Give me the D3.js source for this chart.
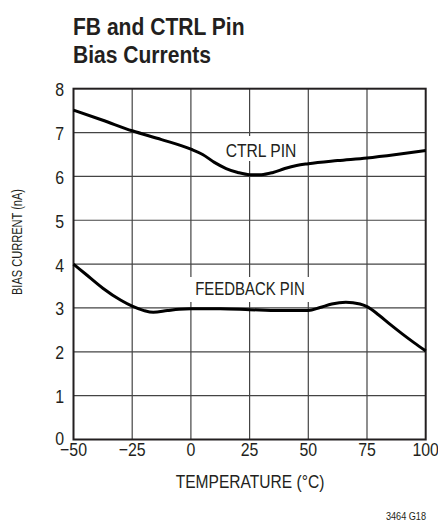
<!DOCTYPE html>
<html lang="en">
  <head>
    <meta charset="utf-8" />
    <title>FB and CTRL Pin Bias Currents</title>
    <script src="https://d3js.org/d3.v7.min.js"></script>
    <style>
      body { margin: 0; background: #fff; }
      text { font-family: "Liberation Sans", Arial, sans-serif; fill: #231f20; }
    </style>
  </head>
  <body>
    <script type="text/javascript">
      // temperature (°C) and bias current (nA)
      const ctrlTemp = [-50, -37.5, -25, -12.5, 0, 5, 10, 15, 20, 25, 30, 35, 40, 45, 50, 62.5, 75, 87.5, 100];
      const ctrlBias = [7.51, 7.28, 7.04, 6.84, 6.62, 6.5, 6.32, 6.18, 6.09, 6.04, 6.04, 6.09, 6.18, 6.25, 6.29, 6.36, 6.42, 6.5, 6.59];

      const fbTemp = [-50, -45, -37.5, -30, -25, -20, -16, -10, -5, 0, 12.5, 25, 37.5, 50, 55, 60, 66, 72, 75, 80, 85, 90, 95, 100];
      const fbBias = [4.0, 3.78, 3.45, 3.18, 3.04, 2.94, 2.9, 2.94, 2.97, 2.98, 2.98, 2.96, 2.94, 2.94, 3.01, 3.09, 3.13, 3.09, 3.03, 2.84, 2.62, 2.41, 2.21, 2.02];

      const xTicks = [-50, -25, 0, 25, 50, 75, 100];
      const yTicks = [0, 1, 2, 3, 4, 5, 6, 7, 8];

      const w = 438;
      const h = 521;
      const pLeft = 73.5, pRight = 425.7, pTop = 88.7, pBottom = 439.5;

      const svg = d3.select("body").append("svg").attr("width", w).attr("height", h);

      const x = d3.scaleLinear().domain([-50, 100]).range([pLeft, pRight]);
      const y = d3.scaleLinear().domain([0, 8]).range([pBottom, pTop]);

      // condensed-looking text: squeeze Liberation Sans horizontally
      function label(px, py, str, size, sx, anchor, extra) {
        return svg.append("text")
          .attr("transform", "translate(" + px + "," + py + ")" + (extra || "") + " scale(" + sx + ",1)")
          .attr("text-anchor", anchor || "start")
          .attr("font-size", size + "px")
          .text(str);
      }

      // title
      label(73, 34.5, "FB and CTRL Pin", 24.5, 0.86).attr("font-weight", "bold");
      label(73, 63, "Bias Currents", 24.5, 0.86).attr("font-weight", "bold");

      // grid
      const grid = svg.append("g").attr("stroke", "#444").attr("stroke-width", 1.2);
      grid.selectAll("line.v").data(xTicks.slice(1, -1)).enter().append("line")
        .attr("x1", d => x(d)).attr("x2", d => x(d))
        .attr("y1", pTop).attr("y2", pBottom);
      grid.selectAll("line.h").data(yTicks.slice(1, -1)).enter().append("line")
        .attr("x1", pLeft).attr("x2", pRight)
        .attr("y1", d => y(d)).attr("y2", d => y(d));

      // label backgrounds (break the grid behind the text)
      svg.append("rect").attr("x", 221).attr("y", 136).attr("width", 80).attr("height", 25).attr("fill", "#fff");
      svg.append("rect").attr("x", 190).attr("y", 277).attr("width", 121).attr("height", 25).attr("fill", "#fff");

      svg.append("rect")
        .attr("x", pLeft).attr("y", pTop)
        .attr("width", pRight - pLeft).attr("height", pBottom - pTop)
        .attr("fill", "none").attr("stroke", "#231f20").attr("stroke-width", 2);

      // curves
      const line = d3.line()
        .x(d => x(d[0]))
        .y(d => y(d[1]))
        .curve(d3.curveMonotoneX);

      svg.append("path")
        .datum(d3.zip(ctrlTemp, ctrlBias))
        .attr("d", line)
        .attr("fill", "none").attr("stroke", "#000").attr("stroke-width", 3);

      svg.append("path")
        .datum(d3.zip(fbTemp, fbBias))
        .attr("d", line)
        .attr("fill", "none").attr("stroke", "#000").attr("stroke-width", 3);

      label(261, 157, "CTRL PIN", 18, 0.87, "middle");
      label(250, 295, "FEEDBACK PIN", 18, 0.83, "middle");

      // tick labels (the 0 sits a little higher so it clears −50)
      yTicks.forEach(d => label(64, y(d) + (d === 0 ? 5.5 : 7.5), d, 18.5, 0.86, "end"));
      xTicks.forEach(d => label(x(d), 456, d3.format("")(d).replace("-", "\u2212"), 18.5, 0.86, "middle"));

      // axis titles
      label(250, 488, "TEMPERATURE (°C)", 19, 0.82, "middle");
      label(22, 242, "BIAS CURRENT (nA)", 14, 0.79, "middle", " rotate(-90)");

      label(426, 520, "3464 G18", 10.5, 0.87, "end");
    </script>
  </body>
</html>
